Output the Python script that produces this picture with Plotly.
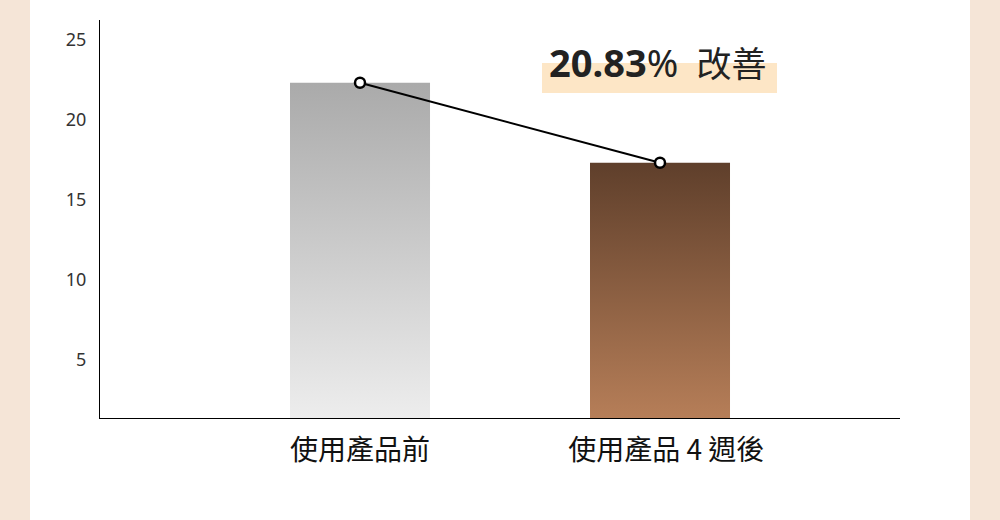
import plotly.graph_objects as go

categories = ["使用產品前", "\u00a0\u00a0使用產品 4 週後"]
values = [22.33, 17.33]
bar_top_colors = ["#aaaaaa", "#5f3f2b"]
bar_bottom_colors = ["#ededed", "#b67e58"]
y_ticks = [5, 10, 15, 20, 25]
improvement_label = "20.83"

Y_MIN, Y_MAX = 1.375, 26.25
BAR_W = 0.4667
FONT = "Noto Sans, Noto Sans CJK TC, sans-serif"

fig = go.Figure()

xs = list(range(len(categories)))
for i, v in enumerate(values):
    x0, x1 = xs[i] - BAR_W / 2, xs[i] + BAR_W / 2
    fig.add_trace(go.Scatter(
        x=[x0, x1, x1, x0, x0],
        y=[Y_MIN, Y_MIN, v, v, Y_MIN],
        mode="lines",
        line=dict(width=0),
        fill="toself",
        fillgradient=dict(
            type="vertical",
            colorscale=[[0, bar_bottom_colors[i]], [1, bar_top_colors[i]]],
            start=Y_MIN,
            stop=v,
        ),
        hoverinfo="skip",
        showlegend=False,
    ))

fig.add_trace(go.Scatter(
    x=xs, y=values, mode="lines+markers",
    line=dict(color="#000000", width=2),
    marker=dict(size=10, color="#ffffff", line=dict(color="#000000", width=2.5)),
    showlegend=False,
))

# white panel over beige background
fig.add_shape(type="rect", xref="paper", yref="paper",
              x0=-0.0875, x1=1.0875, y0=-0.3, y1=1.1,
              fillcolor="#ffffff", line=dict(width=0), layer="below")
# highlight behind the improvement label
fig.add_shape(type="rect", xref="paper", yref="paper",
              x0=0.5525, x1=0.84625, y0=0.8166, y1=0.892,
              fillcolor="#fde6c6", line=dict(width=0), layer="below")

fig.add_annotation(
    x=0.5585, xref="paper", y=23.65, yref="y", xanchor="left", yanchor="middle",
    showarrow=False,
    text=(f"<b><span style='font-size:38px'>{improvement_label}</span></b>"
          "<span style='font-size:38px'>%</span>"
          "<span style='font-size:35px'>&nbsp;&nbsp;改善</span>"),
    font=dict(family=FONT, color="#222222", size=35),
)

fig.update_layout(
    width=1000, height=520,
    margin=dict(l=100, r=100, t=20, b=102),
    paper_bgcolor="#f5e5d7",
    plot_bgcolor="rgba(0,0,0,0)",
    font=dict(family=FONT, color="#333333"),
    xaxis=dict(
        range=[-0.8667, 1.8], tickvals=xs, ticktext=categories,
        showline=True, linecolor="#000000", linewidth=1.3,
        showgrid=False, zeroline=False, ticks="",
        tickfont=dict(size=28, color="#111111",
                      family="Noto Sans CJK TC, sans-serif"),
        ticklabelstandoff=7,
    ),
    yaxis=dict(
        range=[Y_MIN, Y_MAX], tickvals=y_ticks,
        showline=True, linecolor="#000000", linewidth=1.3,
        showgrid=False, zeroline=False, ticks="",
        tickfont=dict(size=18, color="#333333"),
        ticklabelstandoff=9,
    ),
)

fig.write_html("out.html", config={"displayModeBar": False},
               post_script="document.body.style.margin='0';")
